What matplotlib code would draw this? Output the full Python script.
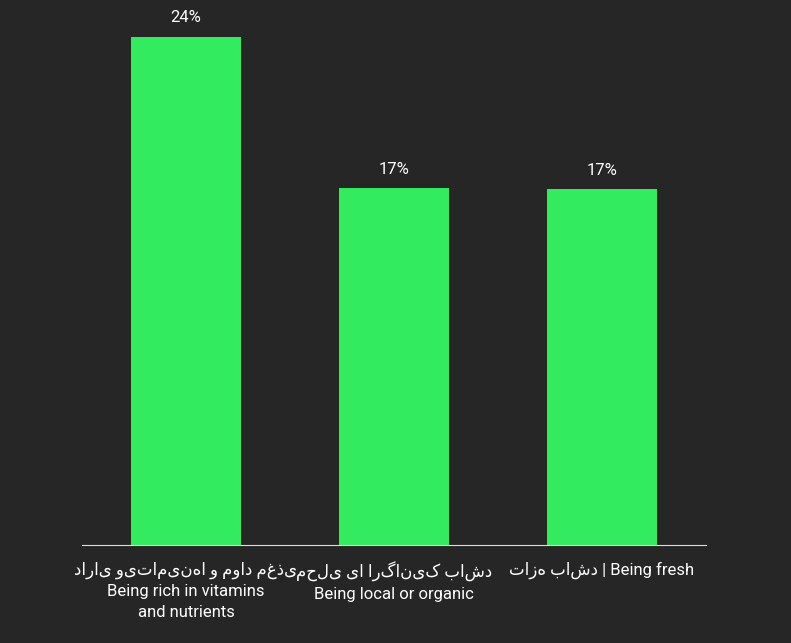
import matplotlib.pyplot as plt

categories = ['دارای ویتامین‌ها و مواد مغذی\nBeing rich in vitamins\nand nutrients',
              'محلی یا ارگانیک باشد\nBeing local or organic',
              'تازه باشد | Being fresh']
values = [24.0, 16.85, 16.8]
labels = ['24%', '17%', '17%']

bg = '#262626'
green = '#33eb5e'

plt.rcParams['font.family'] = ['Roboto', 'DejaVu Sans']
fig = plt.figure(figsize=(7.91, 6.43), dpi=100, facecolor=bg)
ax = fig.add_axes([82 / 791, 98 / 643, 624 / 791, 545 / 643], facecolor=bg)

x = range(len(categories))
ax.bar(x, values, width=0.53, color=green)
for xi, v, lab in zip(x, values, labels):
    ax.text(xi, v + 0.55, lab, ha='center', va='bottom', color='white', fontsize=12)

ax.set_xlim(-0.5, 2.5)
ax.set_ylim(0, 25.75)
ax.set_xticks(list(x))
ax.set_xticklabels(categories, color='white', fontsize=12, linespacing=1.45)
ax.tick_params(axis='x', length=0, pad=12)
ax.set_yticks([])
for s in ['top', 'left', 'right']:
    ax.spines[s].set_visible(False)
ax.spines['bottom'].set_color('#dddddd')

fig.savefig('out.png', facecolor=bg)
